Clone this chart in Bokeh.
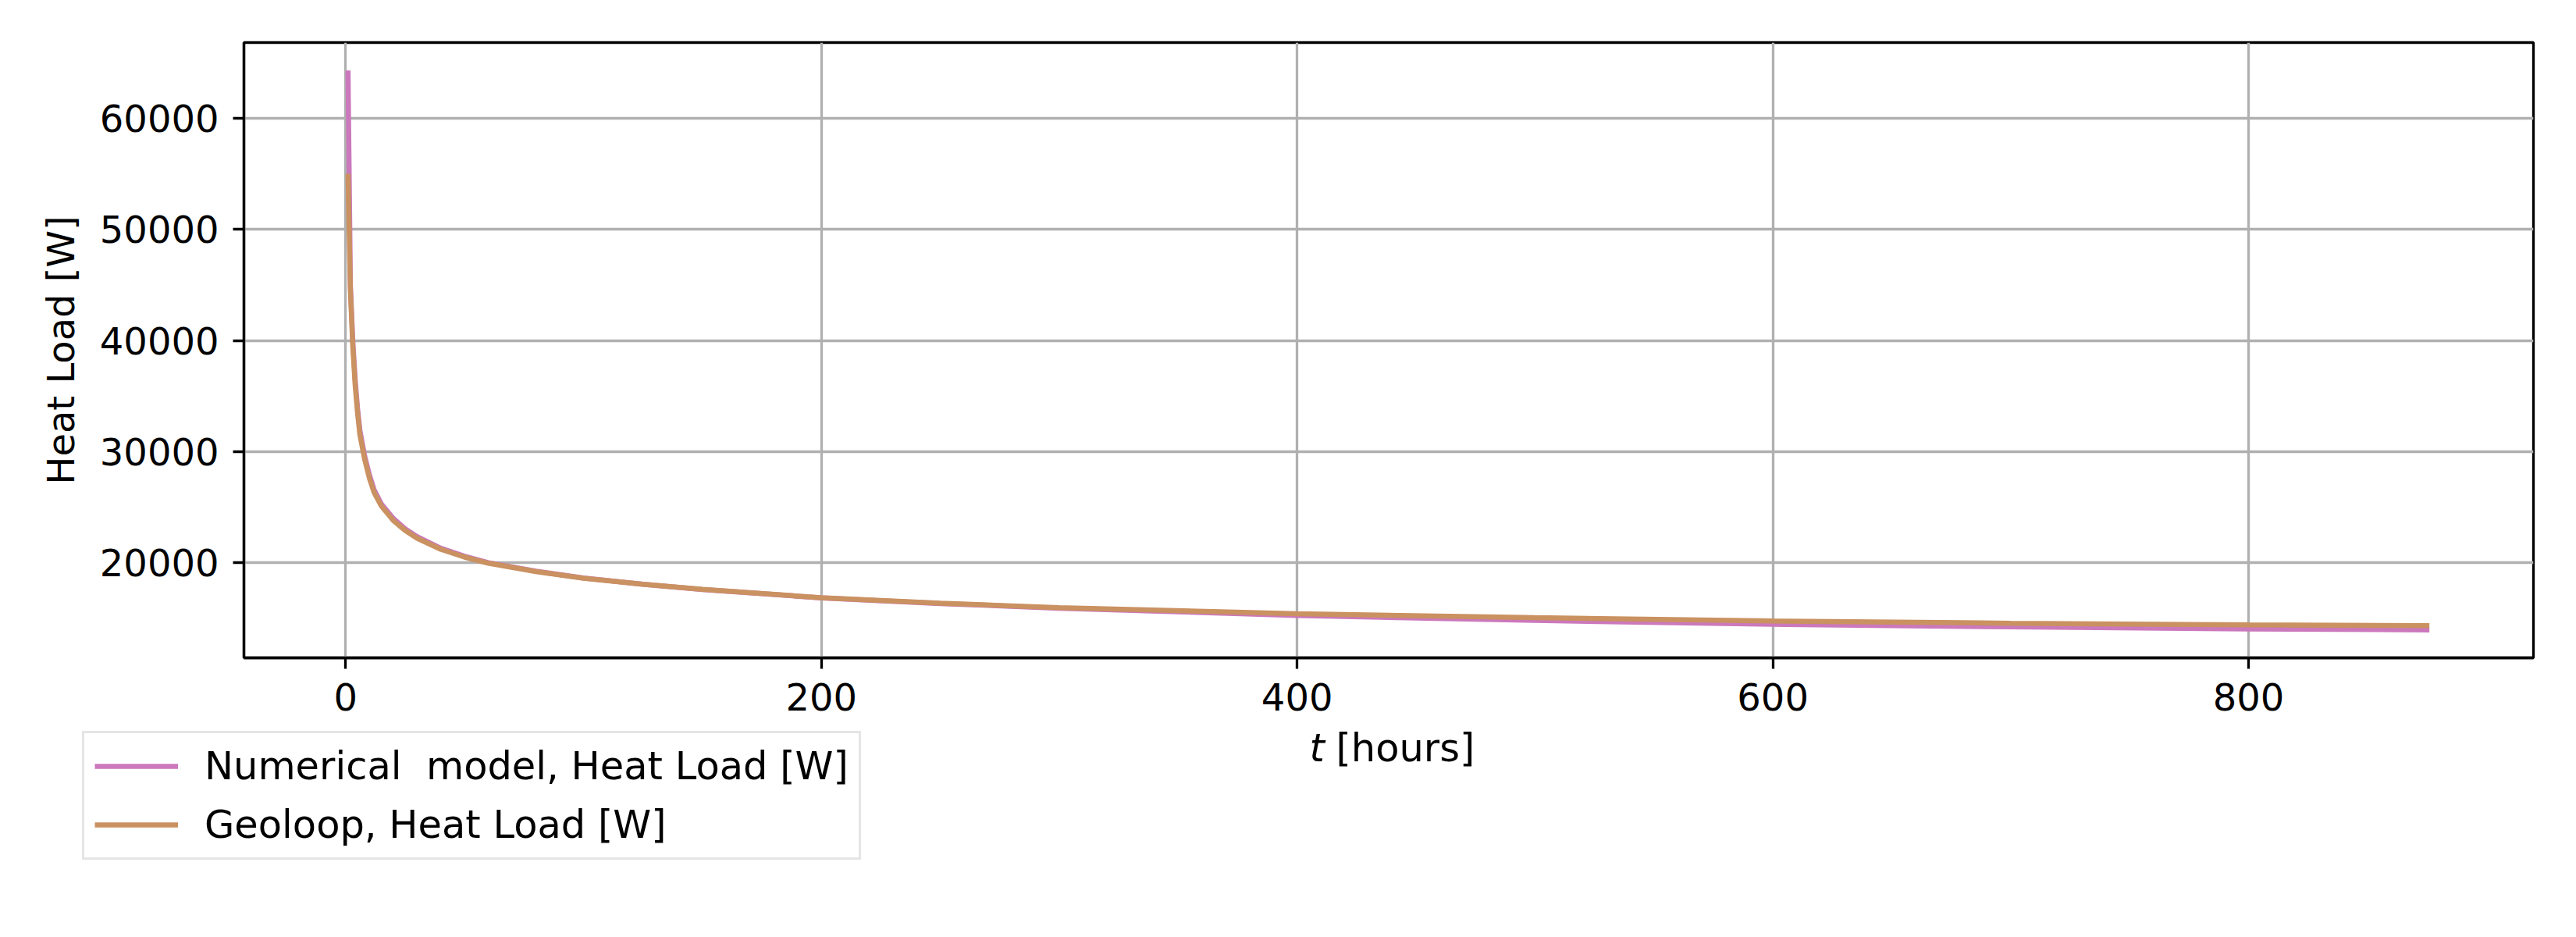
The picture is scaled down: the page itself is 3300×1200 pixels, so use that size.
from bokeh.plotting import figure
from bokeh.models import (Range1d, FixedTicker, Legend, LegendItem, Label,
                          BasicTickFormatter, Spacer)
from bokeh.layouts import column, row
from bokeh.embed import file_html
from bokeh.resources import INLINE

# ---- data ----
t_hours = [1, 2, 3, 4, 5, 6, 8, 10, 12, 15, 20, 25, 30, 40, 50, 60, 80, 100,
           125, 150, 200, 250, 300, 400, 500, 600, 700, 800, 876]
numerical_load = [64300, 45000, 40000, 36500, 33900, 31900, 29600, 27900, 26550,
                  25300, 24000, 23050, 22350, 21300, 20580, 20000, 19230, 18620,
                  18050, 17590, 16830, 16320, 15900, 15250, 14800, 14450, 14220,
                  14040, 13950]
geoloop_load = [55000, 44500, 39500, 36000, 33500, 31500, 29300, 27600, 26300,
                25100, 23800, 22900, 22200, 21200, 20500, 19950, 19200, 18600,
                18050, 17600, 16850, 16350, 15950, 15400, 15050, 14750, 14550,
                14400, 14330]
x_ticks = [0, 200, 400, 600, 800]
y_ticks = [20000, 30000, 40000, 50000, 60000]
series_names = ["Numerical  model, Heat Load [W]", "Geoloop, Heat Load [W]"]
series_colors = ["#CC78BC", "#CA9161"]

FONT = "DejaVu Sans"
FS = "48px"
FS_L = "49.5px"
LW = 6.5

# ranges with matplotlib-like 5% margins
xmin, xmax = min(t_hours), max(t_hours)
ymin = min(numerical_load + geoloop_load)
ymax = max(numerical_load + geoloop_load)
xpad = 0.05 * (xmax - xmin)
ypad = 0.05 * (ymax - ymin)

p = figure(frame_width=2933, frame_height=788,
           min_border_left=312, min_border_top=54, min_border_right=40,
           min_border_bottom=86,
           x_range=Range1d(xmin - xpad, xmax + xpad),
           y_range=Range1d(ymin - ypad, ymax + ypad),
           output_backend="svg", toolbar_location=None)

p.background_fill_color = "white"
p.border_fill_color = "white"
p.outline_line_color = "black"
p.outline_line_width = 3.3

for ax in (p.xaxis[0], p.yaxis[0]):
    ax.axis_line_color = "black"
    ax.axis_line_width = 3.3
    ax.major_tick_line_color = "black"
    ax.major_tick_line_width = 3.3
    ax.major_tick_out = 14
    ax.major_tick_in = 0
    ax.minor_tick_line_color = None
    ax.major_label_text_font = FONT
    ax.major_label_text_font_size = FS
    ax.major_label_text_color = "black"
    ax.major_label_standoff = 18

p.xaxis[0].ticker = FixedTicker(ticks=x_ticks)
p.yaxis[0].ticker = FixedTicker(ticks=y_ticks)
p.yaxis[0].formatter = BasicTickFormatter(use_scientific=False)

p.yaxis[0].axis_label = "Heat Load [W]"
p.yaxis[0].axis_label_text_font = FONT
p.yaxis[0].axis_label_text_font_size = FS
p.yaxis[0].axis_label_text_font_style = "normal"
p.yaxis[0].axis_label_text_color = "black"
p.yaxis[0].axis_label_standoff = 19

p.xgrid.ticker = FixedTicker(ticks=x_ticks)
p.ygrid.ticker = FixedTicker(ticks=y_ticks)
for g in (p.xgrid[0], p.ygrid[0]):
    g.grid_line_color = "#b0b0b0"
    g.grid_line_width = 3.3

p.line(t_hours, numerical_load, line_color=series_colors[0], line_width=LW)
p.line(t_hours, geoloop_load, line_color=series_colors[1], line_width=LW)

# ---- lower strip: legend + x-axis label ----
q = figure(width=1810, height=200, x_range=Range1d(-10, -9), y_range=Range1d(-10, -9),
           x_axis_location=None, y_axis_location=None,
           min_border=0, output_backend="svg", toolbar_location=None)
q.grid.visible = False
q.outline_line_color = None
q.background_fill_color = "white"
q.border_fill_color = "white"

# same series, out of this strip's view: used only as legend keys
k1 = q.line(t_hours, numerical_load, line_color=series_colors[0], line_width=LW)
k2 = q.line(t_hours, geoloop_load, line_color=series_colors[1], line_width=LW)

legend = Legend(items=[LegendItem(label=series_names[0], renderers=[k1]),
                       LegendItem(label=series_names[1], renderers=[k2])],
                location=(7, 27), orientation="vertical")
legend.label_text_font = FONT
legend.label_text_font_size = FS_L
legend.label_text_color = "black"
legend.glyph_width = 107
legend.glyph_height = 48
legend.label_height = 48
legend.label_standoff = 34
legend.spacing = 17
legend.padding = 13
legend.margin = 0
legend.border_line_color = "#cccccc"
legend.border_line_width = 3.3
legend.background_fill_color = "white"
legend.background_fill_alpha = 0.8
q.add_layout(legend, "center")

q.add_layout(Label(x=1579, y=171, x_units="screen", y_units="screen", text="t",
                   text_font=FONT, text_font_size=FS_L, text_font_style="italic",
                   text_baseline="middle", text_align="left", text_color="black"))
q.add_layout(Label(x=1613, y=171, x_units="screen", y_units="screen", text="[hours]",
                   text_font=FONT, text_font_size=FS_L, text_font_style="normal",
                   text_baseline="middle", text_align="left", text_color="black"))

layout = column(p, row(Spacer(width=98, height=200), q))

open("out.html", "w").write(file_html(layout, INLINE))
